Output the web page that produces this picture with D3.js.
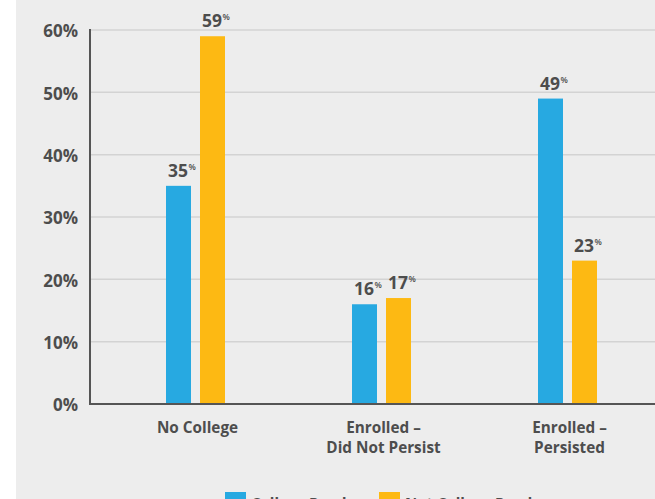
<!DOCTYPE html>
<html>
<head>
<meta charset="utf-8">
<script src="https://cdn.jsdelivr.net/npm/d3@7/dist/d3.min.js"></script>
<style>
  html, body { margin: 0; padding: 0; background: #ffffff; }
  svg { display: block; }
  text { font-family: "Open Sans", Lato, sans-serif; font-weight: 700; fill: #4d4d4d; }
</style>
</head>
<body>
<svg id="chart" width="655" height="499"></svg>
<script>
// Outcome categories (multi-line labels) and the two series
const categories = ["No College", "Enrolled –\nDid Not Persist", "Enrolled –\nPersisted"];
const seriesNames = ["College Ready", "Not College Ready"];
const collegeReady = [35, 16, 49];
const notCollegeReady = [59, 17, 23];
const yTicks = [0, 10, 20, 30, 40, 50, 60];
const colors = ["#27a9e1", "#fdb913"];

const W = 655, H = 499;
const svg = d3.select("#chart");

// grey panel
svg.append("rect").attr("x", 16).attr("y", 0).attr("width", W - 16).attr("height", H).attr("fill", "#ededed");

const plot = { left: 90, right: 655, top: 30, bottom: 404 };

const y = d3.scaleLinear().domain([0, 60]).range([plot.bottom, plot.top]);
const x = d3.scaleBand().domain(categories).range([102.5, 660.5]).padding(0);
const xs = d3.scaleBand().domain(seriesNames).range([0, 59]).paddingInner(9 / 34);

const rows = categories.map((c, i) => ({ cat: c, values: [collegeReady[i], notCollegeReady[i]] }));

// gridlines
svg.append("g").selectAll("line").data(yTicks.filter(t => t > 0)).join("line")
  .attr("x1", plot.left).attr("x2", plot.right)
  .attr("y1", d => y(d)).attr("y2", d => y(d))
  .attr("stroke", "#d3d3d3").attr("stroke-width", 1.5);

// y axis tick labels
const yAxis = d3.axisLeft(y).tickValues(yTicks).tickFormat(d => d + "%").tickSize(0).tickPadding(12);
const gy = svg.append("g").attr("transform", `translate(${plot.left},0)`).call(yAxis);
gy.select(".domain").remove();
gy.selectAll("text").attr("font-size", 17).attr("font-family", "'Open Sans', sans-serif")
  .attr("font-weight", 700).attr("fill", "#555").attr("dy", "0.4em");

// bars
const groups = svg.append("g").selectAll("g").data(rows).join("g")
  .attr("transform", d => `translate(${x(d.cat) + x.bandwidth() / 2 - 29.5},0)`);

groups.selectAll("rect").data(d => d.values.map((v, j) => ({ v, s: seriesNames[j], j }))).join("rect")
  .attr("x", d => xs(d.s)).attr("width", xs.bandwidth())
  .attr("y", d => y(d.v)).attr("height", d => y(0) - y(d.v))
  .attr("fill", d => colors[d.j]);

// value labels with superscript percent sign
const lbl = groups.selectAll("text.val").data(d => d.values.map((v, j) => ({ v, s: seriesNames[j] }))).join("text")
  .attr("class", "val")
  .attr("x", d => xs(d.s) + xs.bandwidth() / 2 - 10.5)
  .attr("y", d => y(d.v) - 9)
  .attr("text-anchor", "start");
lbl.append("tspan").attr("font-size", 17.5).text(d => d.v);
lbl.append("tspan").attr("font-size", 8.5).attr("dx", 0.5).attr("dy", -7).attr("font-weight", 600).text("%");

// axis lines
svg.append("line").attr("x1", plot.left).attr("x2", plot.left).attr("y1", plot.top - 1).attr("y2", plot.bottom + 1)
  .attr("stroke", "#555").attr("stroke-width", 2);
svg.append("line").attr("x1", plot.left - 1).attr("x2", plot.right).attr("y1", plot.bottom).attr("y2", plot.bottom)
  .attr("stroke", "#555").attr("stroke-width", 2);

// category labels
const cl = svg.append("g").selectAll("text").data(categories).join("text")
  .attr("text-anchor", "middle").attr("font-size", 15.3)
  .attr("transform", d => `translate(${x(d) + x.bandwidth() / 2 + 2},433)`);
cl.selectAll("tspan").data(d => d.split("\n")).join("tspan")
  .attr("x", 0).attr("y", (d, i) => i * 19.5).text(d => d);

// legend
const legend = svg.append("g").attr("transform", "translate(225,492)");
const li = legend.selectAll("g").data(seriesNames).join("g")
  .attr("transform", (d, i) => `translate(${i * 154},0)`);
li.append("rect").attr("width", 21).attr("height", 21).attr("fill", (d, i) => colors[i]);
li.append("text").attr("x", 26).attr("y", 16).attr("font-size", 15).text(d => d);
</script>
</body>
</html>
